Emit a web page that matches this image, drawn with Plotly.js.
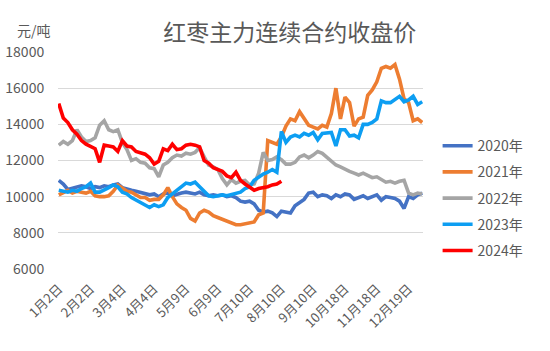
<!DOCTYPE html>
<html>
<head>
<meta charset="utf-8">
<script src="https://cdn.plot.ly/plotly-3.0.1.min.js"></script>
<style>html,body{margin:0;padding:0;background:#fff;}#chart{width:550px;height:351px;}</style>
</head>
<body>
<div id="chart"></div>
<script>
// Tick labels on the category (trading-day) axis, one every 21 trading days
const tickLabels = ["1月2日","2月2日","3月4日","4月4日","5月9日","6月9日","7月10日","8月10日","9月10日","10月18日","11月18日","12月19日"];
const tickEvery = 21;
const sampleStep = 3;      // one reading every 3 trading days
const totalDays = 241;

const seriesNames = ["2020年","2021年","2022年","2023年","2024年"];

const y2020 = [10900,10700,10400,10450,10500,10600,10550,10450,10550,10500,
  10600,10550,10650,10700,10500,10400,10350,10300,10250,10200,
  10100,10150,10000,10150,10200,10050,10150,10200,10250,10200,
  10150,10250,10100,10050,10100,10050,10100,10000,10050,9950,
  9750,9700,9750,9600,9250,9150,9200,9100,8900,9200,
  9150,9100,9500,9700,9850,10200,10250,10000,10100,10050,
  9900,10100,10000,10150,10100,9850,9950,10050,9900,10000,
  10100,9800,10000,9950,9900,9750,9350,10000,9900,10100,10200];

const y2021 = [10100,10200,10350,10200,10300,10250,10200,10300,10050,10000,
  10000,10050,10300,10650,10500,10300,10250,10100,9950,9950,
  9800,9850,9850,10100,10500,10000,9600,9400,9250,8800,
  8650,9100,9250,9150,8950,8850,8750,8650,8500,8450,
  8450,8500,8500,8600,9000,9100,13100,13000,12900,13300,
  13900,14300,14200,14700,14300,13950,13850,13750,13950,13850,
  14600,16000,14300,15500,15200,13900,14300,14400,15600,15900,
  16350,17100,17200,17100,17300,16500,15400,15200,14200,14300,14100];

const y2022 = [12850,13050,12900,13100,13700,13300,13050,13100,13250,13950,
  14200,13700,13600,13700,13000,12600,12000,12100,11900,11850,
  11600,11550,11100,11750,11900,12150,12300,12250,12400,12350,
  12450,12700,12200,11750,11650,11500,11000,10650,10950,10750,
  10850,10900,10650,10700,11300,12450,12000,12050,12200,12050,
  11800,11800,11900,12200,12300,12150,12300,12500,12400,12200,
  11950,11750,11650,11500,11400,11300,11200,11300,11200,11050,
  11100,10950,10800,10850,10750,10850,10900,10200,10100,10200,10150];

const y2023 = [10350,10300,10250,10350,10300,10450,10550,10750,10250,10250,
  10350,10500,10650,10550,10250,10150,9950,9800,9650,9550,
  9400,9550,9450,9550,9950,10150,10350,10500,10750,10700,
  10800,10550,10300,10050,10000,10050,10100,10050,10100,10200,
  10250,10450,10550,10900,11100,11250,11350,11500,11350,13600,
  13000,13300,13400,13300,13500,13400,13550,13150,13500,13550,
  13550,12800,13700,13700,13350,13400,13250,14000,14000,14100,
  14300,15300,15200,15200,15400,15550,15250,15350,15550,15100,15250];

const y2024 = [15150,14350,14100,13700,13450,13100,12900,12800,12650,11900,
  12850,12800,12750,12500,13100,12800,12750,12500,12400,12350,
  12150,11800,11950,12650,12550,12900,12600,12650,12850,12900,
  12850,12750,12000,11850,11600,11500,11400,11150,11050,11350,
  10900,10700,10500,10350,10450,10500,10550,10650,10700,10850];

const seriesValues = [y2020, y2021, y2022, y2023, y2024];
const seriesColors = ["#4472C4","#ED7D31","#A5A5A5","#0D9EF2","#FF0000"];

const traces = seriesValues.map((vals, i) => ({
  type: "scatter",
  mode: "lines",
  name: seriesNames[i],
  legendgroup: "g" + i,
  x: vals.map((_, k) => k * sampleStep),
  y: vals,
  line: {color: seriesColors[i], width: 3.6},
  hoverinfo: "skip"
}));

const tickvals = tickLabels.map((_, i) => i * tickEvery);
const fontFam = "'Noto Sans CJK SC', 'Noto Sans', sans-serif";

const layout = {
  width: 550, height: 351,
  margin: {l: 58, r: 127, t: 52, b: 82},
  paper_bgcolor: "#ffffff",
  plot_bgcolor: "#ffffff",
  font: {family: fontFam, color: "#595959", size: 14},
  title: {
    text: "红枣主力连续合约收盘价",
    font: {family: fontFam, size: 23, color: "#595959"},
    xref: "paper", x: 0.635, xanchor: "center",
    yref: "container", y: 0.905, yanchor: "middle"
  },
  xaxis: {
    range: [-0.5, totalDays - 0.5],
    tickmode: "array", tickvals: tickvals, ticktext: tickLabels,
    tickangle: -45,
    ticks: "outside", ticklen: 6, tickcolor: "rgba(0,0,0,0)",
    showgrid: false, zeroline: false, showline: false,
    tickfont: {size: 13, color: "#595959", family: fontFam}
  },
  yaxis: {
    range: [6000, 18000],
    tickmode: "array", tickvals: [6000, 8000, 10000, 12000, 14000, 16000, 18000],
    ticktext: ["6000","8000","10000","12000","14000","16000","18000"],
    ticks: "outside", ticklen: 10, tickcolor: "rgba(0,0,0,0)",
    showgrid: true, gridcolor: "#D9D9D9", gridwidth: 1.2,
    zeroline: false, showline: false,
    tickfont: {size: 14, color: "#595959", family: fontFam}
  },
  legend: {
    x: 1.04, xanchor: "left", y: 0.64, yanchor: "top",
    font: {size: 14, color: "#595959", family: fontFam},
    traceorder: "grouped", tracegroupgap: 5,
    bgcolor: "rgba(0,0,0,0)", itemclick: false
  },
  annotations: [{
    text: "元/吨", xref: "paper", yref: "paper",
    x: -0.065, y: 1.10, xanchor: "center", yanchor: "middle",
    showarrow: false, font: {size: 14, color: "#595959", family: fontFam}
  }],
  showlegend: true
};

Plotly.newPlot("chart", traces, layout, {staticPlot: true, displayModeBar: false});
</script>
</body>
</html>
